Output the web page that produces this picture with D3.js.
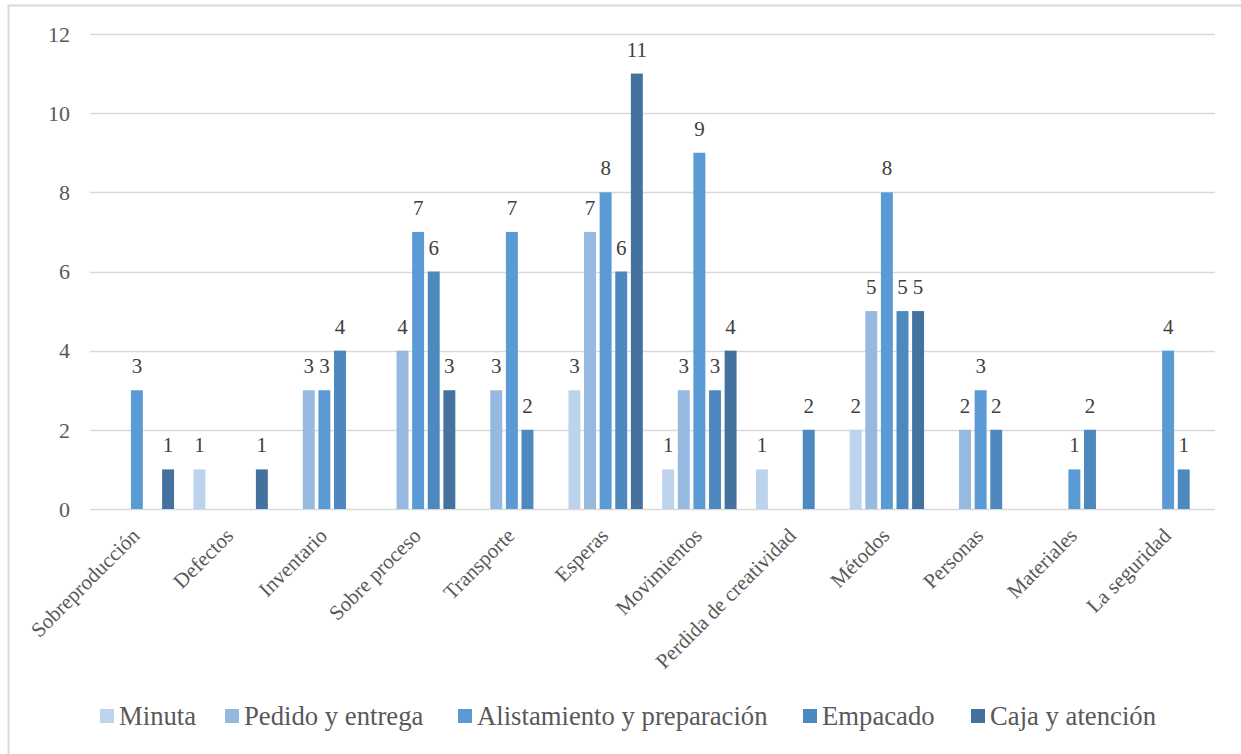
<!DOCTYPE html>
<html>
<head>
<meta charset="utf-8">
<script src="https://cdn.jsdelivr.net/npm/d3@7"></script>
<style>
  html, body { margin: 0; padding: 0; background: #fff; }
  svg { display: block; }
</style>
</head>
<body>
<svg id="chart" width="1241" height="754" font-family="Liberation Serif"></svg>
<script>
// Categories (types of waste) and one value array per process area
const categories = ["Sobreproducción", "Defectos", "Inventario", "Sobre proceso", "Transporte",
  "Esperas", "Movimientos", "Perdida de creatividad", "Métodos", "Personas", "Materiales", "La seguridad"];
const seriesNames = ["Minuta", "Pedido y entrega", "Alistamiento y preparación", "Empacado", "Caja y atención"];
const minuta    = [0, 1, 0, 0, 0, 3, 1, 1, 2, 0, 0, 0];
const pedido    = [0, 0, 3, 4, 3, 7, 3, 0, 5, 2, 0, 0];
const alista    = [3, 0, 3, 7, 7, 8, 9, 0, 8, 3, 1, 4];
const empacado  = [0, 0, 4, 6, 2, 6, 3, 2, 5, 2, 2, 1];
const caja      = [1, 1, 0, 3, 0, 11, 4, 0, 5, 0, 0, 0];
const yTicks = [0, 2, 4, 6, 8, 10, 12];
const colors = ["#bdd3ec", "#96b9e0", "#5b9bd5", "#4d89be", "#43729f"];

const seriesValues = [minuta, pedido, alista, empacado, caja];
const FONT = "Liberation Serif";

const svg = d3.select("#chart");

// outer chart frame
svg.append("rect")
  .attr("x", 8.5).attr("y", 5.5).attr("width", 1240).attr("height", 760)
  .attr("fill", "none").attr("stroke", "#d9d9d9").attr("stroke-width", 2);

const plot = { left: 90, right: 1215, top: 34, bottom: 509 };

const x0 = d3.scaleBand().domain(categories).range([plot.left, plot.right]).paddingInner(0).paddingOuter(0);
const x1 = d3.scaleBand().domain(seriesNames).range([0, x0.bandwidth()]).paddingInner(0.235).paddingOuter(0.62);
const y = d3.scaleLinear().domain([0, 12]).range([plot.bottom, plot.top]);

// horizontal gridlines
svg.append("g").selectAll("line").data(yTicks).join("line")
  .attr("x1", plot.left).attr("x2", plot.right)
  .attr("y1", d => Math.round(y(d)) + 0.5).attr("y2", d => Math.round(y(d)) + 0.5)
  .attr("stroke", "#d9d9d9").attr("stroke-width", 1.5);

// y axis tick labels
svg.append("g").selectAll("text").data(yTicks).join("text")
  .attr("x", 70).attr("y", d => y(d)).attr("dy", "0.35em")
  .attr("text-anchor", "end")
  .attr("font-family", FONT).attr("font-size", 22).attr("fill", "#595959")
  .text(d => d);

// bars and value labels
const flat = [];
categories.forEach((c, i) => {
  seriesNames.forEach((s, j) => {
    flat.push({ cat: c, series: s, idx: j, value: seriesValues[j][i] });
  });
});
const bars = flat.filter(d => d.value > 0);

svg.append("g").selectAll("rect").data(bars).join("rect")
  .attr("x", d => x0(d.cat) + x1(d.series))
  .attr("y", d => y(d.value))
  .attr("width", x1.bandwidth())
  .attr("height", d => y(0) - y(d.value))
  .attr("fill", d => colors[d.idx]);

svg.append("g").selectAll("text").data(bars).join("text")
  .attr("x", d => x0(d.cat) + x1(d.series) + x1.bandwidth() / 2)
  .attr("y", d => y(d.value) - 17)
  .attr("text-anchor", "middle")
  .attr("font-family", FONT)
  .attr("font-size", 21).attr("fill", "#404040")
  .text(d => d.value);

// rotated category labels
svg.append("g").selectAll("text").data(categories).join("text")
  .attr("transform", d => `translate(${x0(d) + x0.bandwidth() / 2 + 4},${plot.bottom + 28}) rotate(-45)`)
  .attr("text-anchor", "end")
  .attr("font-family", FONT)
  .attr("font-size", 21).attr("fill", "#595959")
  .text(d => d);

// legend
const legendItems = [
  { name: seriesNames[0], x: 100 },
  { name: seriesNames[1], x: 225 },
  { name: seriesNames[2], x: 458 },
  { name: seriesNames[3], x: 803 },
  { name: seriesNames[4], x: 971 }
];
const lg = svg.append("g").selectAll("g").data(legendItems).join("g")
  .attr("transform", d => `translate(${d.x},709)`);
lg.append("rect").attr("width", 14).attr("height", 14)
  .attr("fill", (d, i) => colors[i]);
lg.append("text").attr("x", 19).attr("y", 7).attr("dy", "0.35em")
  .attr("font-family", FONT)
  .attr("font-size", 26.7).attr("fill", "#595959")
  .text(d => d.name);
</script>
</body>
</html>
